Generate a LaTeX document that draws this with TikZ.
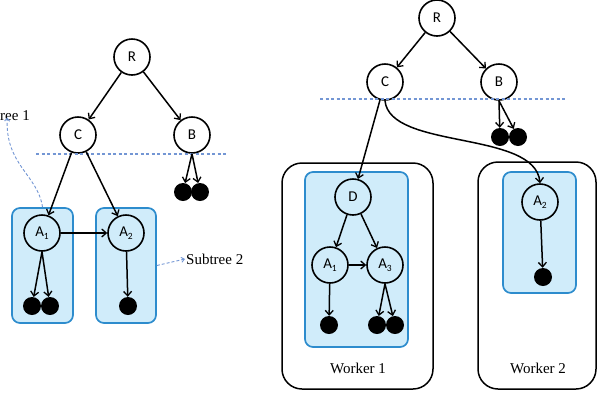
\documentclass[tikz,border=0pt]{standalone}
\usepackage{fontspec}
\setmainfont{Liberation Serif}
\newfontfamily\nodefont{Carlito}
\usetikzlibrary{arrows.meta}
\definecolor{boxfill}{RGB}{208,236,250}
\definecolor{boxline}{RGB}{45,140,205}
\definecolor{cutline}{RGB}{115,150,212}
\newcommand\subidx[1]{\raisebox{-0.4ex}{\fontsize{9.5}{9.5}\selectfont #1}}
\tikzset{
  nd/.style={circle,draw,line width=1.6pt,minimum size=36pt,inner sep=0pt,
    font=\nodefont\fontsize{15}{15}\selectfont},
  leaf/.style={circle,fill=black,minimum size=18pt,inner sep=0pt},
  edge/.style={line width=1.5pt,-{Straight Barb[length=4.5pt,width=8pt,line width=1.3pt]}},
  subbox/.style={draw=boxline,fill=boxfill,line width=1.7pt,rounded corners=8pt,inner sep=0pt},
  workbox/.style={draw,line width=1.5pt,rounded corners=20pt,inner sep=0pt},
  cut/.style={draw=cutline,line width=1.2pt,dash pattern=on 3pt off 2.5pt},
  dasharrow/.style={draw=cutline,line width=0.9pt,dash pattern=on 3pt off 2pt,
    -{Straight Barb[length=3pt,width=5pt]}},
  lbl/.style={font=\fontsize{15}{15}\selectfont,inner sep=1pt},
}
\begin{document}
\begin{tikzpicture}[x=1pt,y=-1pt]
\useasboundingbox (0,0) rectangle (598,408);
% ---------- left picture ----------
\node[subbox,minimum width=61pt,minimum height=115pt] (S1) at (42.5,265.5) {};
\node[subbox,minimum width=60pt,minimum height=115pt] (S2) at (126,265.5) {};
\node[nd] (R) at (132,57) {R};
\node[nd] (C) at (78,135) {C};
\node[nd] (B) at (192,135) {B};
\node[leaf] (Bl1) at (183,192) {};
\node[leaf] (Bl2) at (200,192) {};
\node[nd] (A1) at (42,233) {A\subidx{1}};
\node[nd] (A2) at (126,233) {A\subidx{2}};
\node[leaf] (A1l1) at (32,306) {};
\node[leaf] (A1l2) at (50,306) {};
\node[leaf] (A2l1) at (128,306) {};
\coordinate (cutL1) at (36,154);
\coordinate (cutL2) at (228,154);
\draw[cut] (cutL1) -- (cutL2);
\draw[edge] (R) -- (C);
\draw[edge] (R) -- (B);
\draw[edge] (C) -- (A1);
\draw[edge] (C) -- (A2);
\draw[edge] (B.south) -- (Bl1);
\draw[edge] (B.south) -- (Bl2);
\draw[edge] (A1) -- (A2);
\draw[edge] (A1.south) -- (A1l1);
\draw[edge] (A1.south) -- (A1l2);
\draw[edge] (A2) -- (A2l1);
\node[lbl,anchor=east] (T1) at (31,115) {Subtree 1};
\node[lbl,anchor=west] (T2) at (185,259) {Subtree 2};
\draw[dasharrow] (S1.north) .. controls (38,175) and (5,165) .. ([xshift=6pt,yshift=4pt]T1.south);
\draw[dasharrow] (S2.east) -- (T2.west);
% ---------- right picture ----------
\node[workbox,minimum width=151pt,minimum height=226pt] (W1) at (357.5,276) {};
\node[workbox,minimum width=118pt,minimum height=227pt] (W2) at (537,275.5) {};
\node[subbox,minimum width=103pt,minimum height=175pt] (S3) at (356.5,259.5) {};
\node[subbox,minimum width=73pt,minimum height=121pt] (S4) at (539.5,232.5) {};
\node[nd] (rR) at (437,18) {R};
\node[nd] (rC) at (385,82) {C};
\node[nd] (rB) at (499,82) {B};
\node[leaf] (rBl1) at (500,137) {};
\node[leaf] (rBl2) at (518,137) {};
\node[nd] (rD) at (353,197) {D};
\node[nd] (rA1) at (330,265) {A\subidx{1}};
\node[nd] (rA3) at (385,265) {A\subidx{3}};
\node[leaf] (rA1l1) at (329,325) {};
\node[leaf] (rA3l1) at (377,325) {};
\node[leaf] (rA3l2) at (395,325) {};
\node[nd] (rA2) at (540,202) {A\subidx{2}};
\node[leaf] (rA2l1) at (543,277) {};
\coordinate (cutR1) at (320,99);
\coordinate (cutR2) at (567,99);
\draw[cut] (cutR1) -- (cutR2);
\draw[edge] (rR) -- (rC);
\draw[edge] (rR) -- (rB);
\draw[edge] (rB.south) -- (rBl1);
\draw[edge] (rB.south) -- (rBl2);
\draw[edge] (rC) -- (rD);
\draw[edge] (rC.south) .. controls (390,150) and (535,130) .. (rA2.north);
\draw[edge] (rD) -- (rA1);
\draw[edge] (rD) -- (rA3);
\draw[edge] (rA1) -- (rA3);
\draw[edge] (rA1) -- (rA1l1);
\draw[edge] (rA3.south) -- (rA3l1);
\draw[edge] (rA3.south) -- (rA3l2);
\draw[edge] (rA2) -- (rA2l1);
\node[lbl] (L1) at (358,368) {Worker 1};
\node[lbl] (L2) at (538,368) {Worker 2};
\end{tikzpicture}
\end{document}
